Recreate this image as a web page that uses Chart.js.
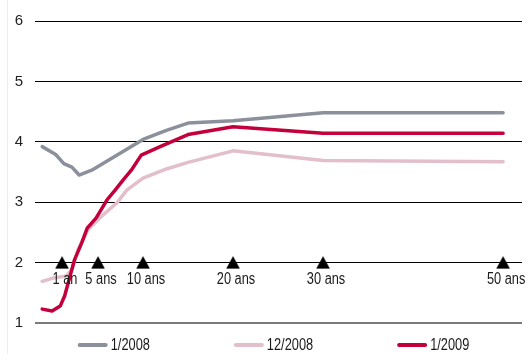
<!DOCTYPE html>
<html><head><meta charset="utf-8">
<script src="https://cdn.jsdelivr.net/npm/chart.js@4/dist/chart.umd.min.js"></script>
<style>html,body{margin:0;padding:0;background:#fff}#wrap{width:530px;height:354px;position:relative}</style>
</head><body><div id="wrap"><canvas id="c" width="530" height="354"></canvas></div>
<script>
// ---- data (maturity in years, yield in %) ----
const seriesNames = ['1/2008', '12/2008', '1/2009'];

const jan2008Maturity = [-1.2, 0.3, 1.2, 2.1, 2.9, 4.3, 6.9, 10, 12.6, 15, 20, 30, 50];
const jan2008Yield    = [3.92, 3.79, 3.64, 3.58, 3.45, 3.53, 3.76, 4.04, 4.19, 4.31, 4.35, 4.48, 4.48];

const dec2008Maturity = [-1.2, -0.1, 1.5, 2.1, 2.8, 3.9, 5.2, 7.1, 8.2, 10, 12.6, 15, 20, 30, 50];
const dec2008Yield    = [1.69, 1.74, 1.78, 1.89, 2.22, 2.55, 2.74, 2.99, 3.20, 3.40, 3.55, 3.66, 3.85, 3.69, 3.67];

const jan2009Maturity = [-1.2, -0.1, 0.8, 1.3, 1.9, 2.4, 3.2, 3.8, 4.8, 6.0, 6.9, 7.8, 8.7, 9.8, 11.9, 15, 20, 30, 50];
const jan2009Yield    = [1.23, 1.20, 1.28, 1.45, 1.78, 2.05, 2.33, 2.57, 2.74, 3.04, 3.20, 3.37, 3.53, 3.78, 3.92, 4.12, 4.25, 4.14, 4.14];

const markerMaturities = [1, 5, 10, 20, 30, 50];
const markerLabels     = ['1 an', '5 ans', '10 ans', '20 ans', '30 ans', '50 ans'];
const markerLevel      = 2;

const yTicks = [1, 2, 3, 4, 5, 6];

// ---- styling ----
const FONT = '"Liberation Sans", Arial, sans-serif';
const NARROW = 0.8; // horizontal compression to mimic a condensed face
const colors = ['#8b909c', '#e2bfca', '#c4003c'];

const toXY = (xs, ys) => xs.map((x, i) => ({x, y: ys[i]}));

const lineDs = (i, xs, ys, order) => ({
  label: seriesNames[i], data: toXY(xs, ys), inLegend: true,
  borderColor: colors[i], backgroundColor: colors[i], borderWidth: 3.5,
  pointRadius: 0, tension: 0, borderJoinStyle: 'round', borderCapStyle: 'round',
  order, clip: false
});

// triangle marker glyph, centred on its bounding box
const tri = document.createElement('canvas');
tri.width = 14; tri.height = 14;
(() => {
  const t = tri.getContext('2d');
  t.fillStyle = '#000';
  t.beginPath(); t.moveTo(7, 0.5); t.lineTo(13.8, 13); t.lineTo(0.2, 13); t.closePath(); t.fill();
})();

function narrowText(ctx, text, x, y) {
  ctx.save(); ctx.translate(x, y); ctx.scale(NARROW, 1);
  ctx.fillText(text, 0, 0); ctx.restore();
}

const frame = {
  id: 'frame',
  beforeDraw(chart) {
    const ctx = chart.ctx; ctx.save();
    ctx.strokeStyle = '#eeeeee'; ctx.lineWidth = 1;
    ctx.beginPath(); ctx.moveTo(7.5, 0); ctx.lineTo(7.5, chart.height); ctx.stroke();
    ctx.restore();
  }
};

const markerText = {
  id: 'markerText',
  afterDatasetsDraw(chart) {
    const ctx = chart.ctx, xs = chart.scales.x, ys = chart.scales.y;
    ctx.save();
    ctx.font = '16px ' + FONT; ctx.fillStyle = '#1a1a1a';
    ctx.textAlign = 'center'; ctx.textBaseline = 'middle';
    markerMaturities.forEach((m, i) => {
      narrowText(ctx, markerLabels[i], xs.getPixelForValue(m) + 3, ys.getPixelForValue(markerLevel) + 17);
    });
    ctx.restore();
  }
};

const legendPlugin = {
  id: 'customLegend',
  afterDraw(chart) {
    const ctx = chart.ctx; ctx.save();
    ctx.font = '16px ' + FONT;
    const items = chart.data.datasets.filter(d => d.inLegend);
    const sw = 30, gap = 3, pad = 84;
    const widths = items.map(d => sw + gap + ctx.measureText(d.label).width * NARROW);
    const total = widths.reduce((a, b) => a + b, 0) + pad * (items.length - 1);
    let x = 273.5 - total / 2; const y = 346;
    items.forEach((d, i) => {
      ctx.strokeStyle = d.borderColor; ctx.lineWidth = 4; ctx.lineCap = 'round';
      ctx.beginPath(); ctx.moveTo(x + 2, y - 1); ctx.lineTo(x + sw - 2, y - 1); ctx.stroke();
      ctx.fillStyle = '#1a1a1a'; ctx.textBaseline = 'middle'; ctx.textAlign = 'left';
      narrowText(ctx, d.label, x + sw + gap, y);
      x += widths[i] + pad;
    });
    ctx.restore();
  }
};

new Chart(document.getElementById('c'), {
  type: 'line',
  data: {
    datasets: [
      lineDs(0, jan2008Maturity, jan2008Yield, 3),
      lineDs(1, dec2008Maturity, dec2008Yield, 2),
      lineDs(2, jan2009Maturity, jan2009Yield, 1),
      {
        label: 'markers', inLegend: false, type: 'scatter',
        data: markerMaturities.map(m => ({x: m, y: markerLevel})),
        pointStyle: tri, pointRadius: 7, showLine: false, order: 0
      }
    ]
  },
  options: {
    responsive: false, animation: false, devicePixelRatio: 1,
    layout: {padding: {top: 20, right: 8, bottom: 31, left: 0}},
    plugins: {legend: {display: false}, tooltip: {enabled: false}},
    scales: {
      x: {type: 'linear', min: -2, max: 52.1, display: false},
      y: {
        min: 1, max: 6,
        afterFit: s => { s.width = 35; },
        afterBuildTicks: s => { s.ticks = yTicks.map(v => ({value: v})); },
        border: {display: false},
        grid: {
          drawTicks: false,
          color: c => c.tick && c.tick.value === 1 ? '#7a7a7a' : '#000',
          lineWidth: c => c.tick && c.tick.value === 1 ? 2 : 1
        },
        ticks: {padding: 12, color: '#222', font: {family: FONT, size: 15}}
      }
    }
  },
  plugins: [frame, markerText, legendPlugin]
});
</script></body></html>
